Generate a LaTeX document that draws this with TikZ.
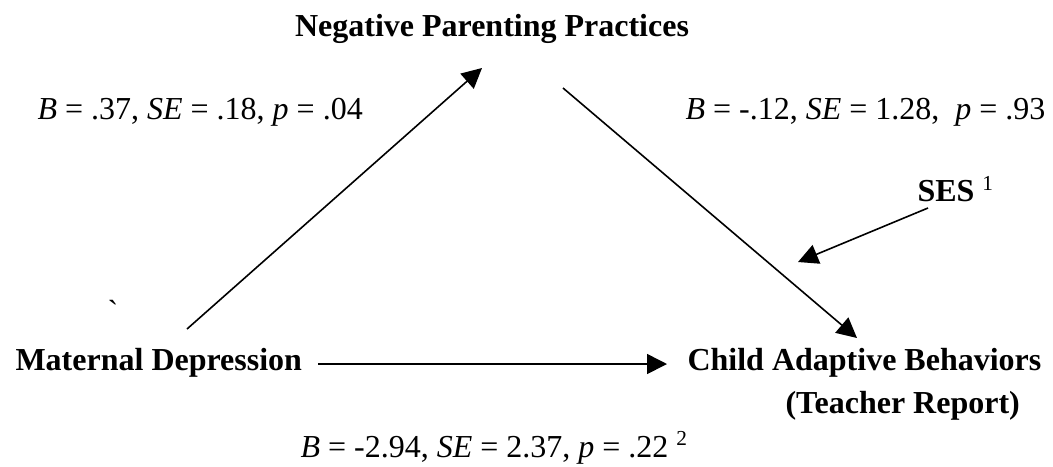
\documentclass[tikz,border=0pt]{standalone}
\usepackage{fontspec}
\setmainfont{Liberation Serif}
\usetikzlibrary{arrows.meta}
\tikzset{
  var/.style={font=\fontsize{12}{14}\selectfont\bfseries, inner sep=0pt, anchor=west},
  coef/.style={font=\fontsize{12}{14}\selectfont, inner sep=0pt, anchor=west},
  link/.style={-{Triangle[length=7.5pt, width=7.5pt]}, line width=0.6pt},
}
\begin{document}
\begin{tikzpicture}[x=0.375pt, y=-0.375pt]
\useasboundingbox (0,0) rectangle (1053,466);
% variables
\node[var, anchor=center] (npp) at (492,29) {Negative Parenting Practices};
\node[var] (md) at (15,363) {Maternal Depression};
\node[var] (cab) at (687,363) {Child Adaptive Behaviors};
\node[var] (tr) at (785,406) {(Teacher Report)};
\node[var] (ses) at (917,189) {SES \textsuperscript{\mdseries 1}};
% path coefficients
\node[coef] (ca) at (37,112) {\textit{B} = .37, \textit{SE} = .18, \textit{p} = .04};
\node[coef] (cb) at (685,112) {\textit{B} = -.12, \textit{SE} = 1.28, \ \textit{p} = .93};
\node[coef] (cc) at (300,448) {\textit{B} = -2.94, \textit{SE} = 2.37, \textit{p} = .22 \textsuperscript{2}};
\node[coef, anchor=center] (tick) at (113,311) {\textasciigrave};
% arrow ends
\coordinate (md-a) at (187,329);
\coordinate (npp-a) at (482,68);
\coordinate (npp-b) at (563,88);
\coordinate (cab-b) at (857,338);
\coordinate (md-c) at (318,364);
\coordinate (cab-c) at (667,364);
\coordinate (ses-d) at (928,208);
\coordinate (cab-d) at (798,262);
\draw[link] (md-a) -- (npp-a);
\draw[link] (npp-b) -- (cab-b);
\draw[link] (md-c) -- (cab-c);
\draw[link] (ses-d) -- (cab-d);
\end{tikzpicture}
\end{document}
